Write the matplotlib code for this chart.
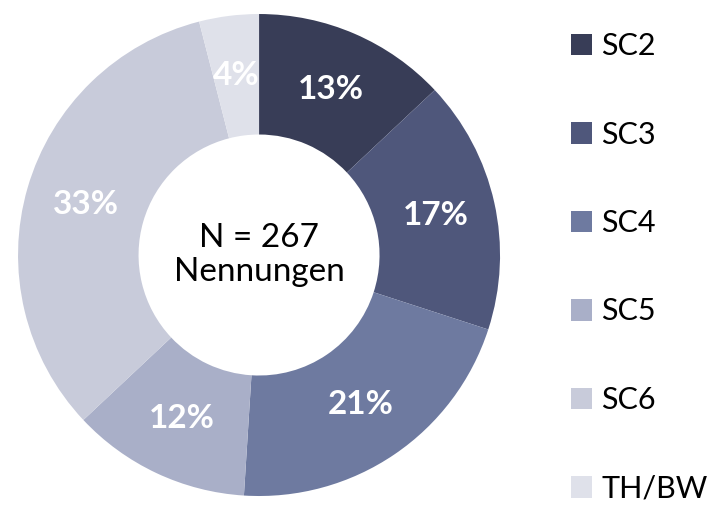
import matplotlib
matplotlib.use("Agg")
import matplotlib.pyplot as plt
from matplotlib.patches import Patch

plt.rcParams['font.family'] = ['Lato', 'DejaVu Sans']

labels = ["SC2", "SC3", "SC4", "SC5", "SC6", "TH/BW"]
values = [13, 17, 21, 12, 33, 4]
colors = ["#383D57", "#4F577B", "#6E7AA0", "#A9AFC8", "#C8CBDA", "#DFE1EA"]

fig = plt.figure(figsize=(7.1, 5.23), dpi=100)
ax = fig.add_axes([0.0254, 0.0516, 0.6789, 0.9216])
wedges, texts, autotexts = ax.pie(values, colors=colors, startangle=90, counterclock=False,
                                  radius=1, wedgeprops=dict(width=0.5, linewidth=0),
                                  autopct='%.0f%%', pctdistance=0.75,
                                  textprops=dict(color="white", fontsize=24, fontweight="bold"))
ax.set_xlim(-1, 1); ax.set_ylim(-1, 1); ax.set_aspect("equal")
ax.text(0, 0, "N = 267\nNennungen", ha="center", va="center", fontsize=24,
        color="black", linespacing=1.2)

handles = [Patch(facecolor=c, edgecolor="none") for c in colors]
fig.legend(handles, labels, loc="upper left", bbox_to_anchor=(571/710, 1 - 32/523),
           frameon=False, fontsize=22, borderpad=0, borderaxespad=0,
           handlelength=0.7, handleheight=0.7, handletextpad=0.3, labelspacing=1.98)

fig.savefig("out.png", dpi=100)
